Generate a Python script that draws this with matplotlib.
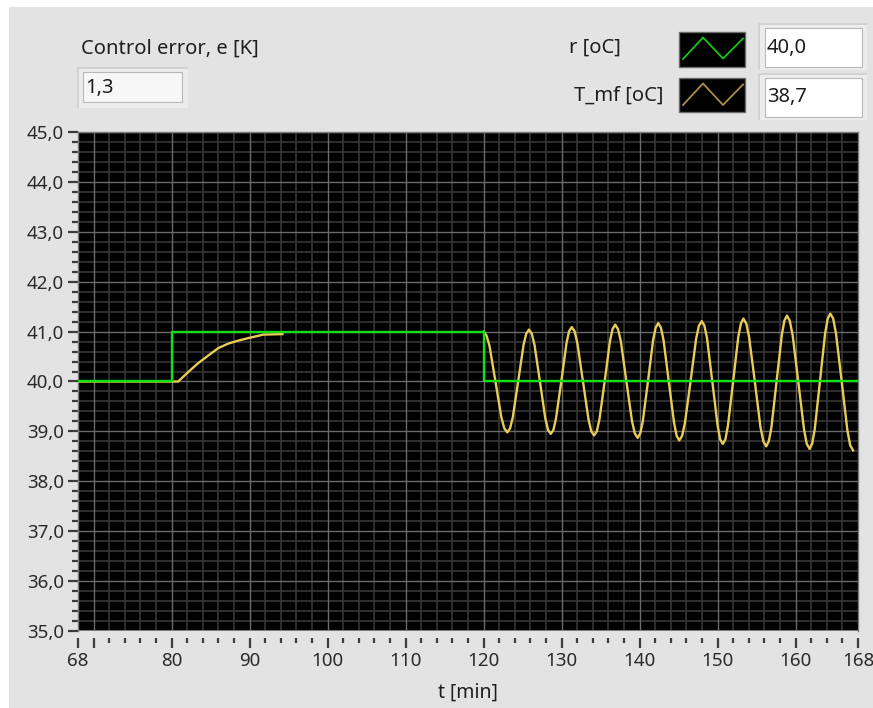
import numpy as np
import matplotlib
matplotlib.use("Agg")
import matplotlib.pyplot as plt
from matplotlib.patches import Rectangle
from matplotlib.lines import Line2D
from matplotlib.ticker import FixedLocator, MultipleLocator, FuncFormatter

nan = float("nan")

# ---------------- data ----------------
# setpoint r [oC]
r_t = [68.0, 80.0, 80.0, 120.0, 120.0, 168.0]
r_v = [40.0, 40.0, 41.0, 41.0, 40.0, 40.0]

# measured T_mf [oC]
tmf_t = [68.0, 80.85, 82.13, 83.42, 84.70, 85.99, 87.27, 88.56, 89.84, 91.77, 94.21,
         nan,
         120.0, 120.38, 120.76, 121.52, 122.28, 122.66,
         123.04, 123.39, 123.74, 124.43, 125.13, 125.47,
         125.82, 126.17, 126.52, 127.22, 127.91, 128.26,
         128.61, 128.95, 129.28, 129.96, 130.63, 130.96,
         131.30, 131.66, 132.02, 132.74, 133.45, 133.81,
         134.17, 134.51, 134.85, 135.52, 136.20, 136.53,
         136.87, 137.23, 137.59, 138.31, 139.03, 139.39,
         139.75, 140.08, 140.41, 141.07, 141.73, 142.06,
         142.39, 142.73, 143.07, 143.74, 144.42, 144.75,
         145.09, 145.45, 145.81, 146.53, 147.25, 147.61,
         147.97, 148.31, 148.65, 149.32, 150.00, 150.33,
         150.67, 151.00, 151.33, 151.99, 152.65, 152.98,
         153.31, 153.68, 154.04, 154.77, 155.50, 155.87,
         156.23, 156.56, 156.90, 157.56, 158.23, 158.56,
         158.89, 159.25, 159.62, 160.34, 161.07, 161.43,
         161.79, 162.12, 162.46, 163.12, 163.78, 164.12,
         164.45, 164.82, 165.18, 165.91, 166.64, 167.00,
         167.37]
tmf_v = [40.0, 40.0, 40.19, 40.37, 40.52, 40.67, 40.76, 40.82, 40.87, 40.94, 40.95,
         nan,
         41.00, 40.92, 40.71, 40.00, 39.28, 39.06,
         38.98, 39.06, 39.28, 40.00, 40.74, 40.96,
         41.04, 40.96, 40.74, 40.00, 39.26, 39.03,
         38.95, 39.03, 39.26, 40.00, 40.77, 41.01,
         41.09, 41.01, 40.77, 40.00, 39.24, 39.00,
         38.92, 39.00, 39.24, 40.00, 40.81, 41.05,
         41.14, 41.05, 40.81, 40.00, 39.20, 38.96,
         38.87, 38.96, 39.20, 40.00, 40.83, 41.08,
         41.17, 41.08, 40.83, 40.00, 39.17, 38.91,
         38.82, 38.91, 39.17, 40.00, 40.86, 41.12,
         41.21, 41.12, 40.86, 40.00, 39.12, 38.84,
         38.75, 38.84, 39.12, 40.00, 40.89, 41.16,
         41.26, 41.16, 40.89, 40.00, 39.08, 38.80,
         38.70, 38.80, 39.08, 40.00, 40.93, 41.22,
         41.32, 41.22, 40.93, 40.00, 39.05, 38.75,
         38.65, 38.75, 39.05, 40.00, 40.96, 41.26,
         41.36, 41.26, 40.96, 40.00, 39.02, 38.72,
         38.62]

x_major = [68, 70, 80, 90, 100, 110, 120, 130, 140, 150, 160, 168]
x_labels = ["68", "", "80", "90", "100", "110", "120", "130", "140", "150", "160", "168"]
y_major = [35, 36, 37, 38, 39, 40, 41, 42, 43, 44, 45]

control_error = "1,3"
r_value = "40,0"
tmf_value = "38,7"

# ---------------- figure ----------------
W, H = 873, 708
FONT = ["Noto Sans", "DejaVu Sans"]
plt.rcParams["font.family"] = FONT
TXT = "#1e1e1e"
FS_TOP = 14.5
FS_TICK = 13.5

fig = plt.figure(figsize=(W / 100, H / 100), dpi=100, facecolor="white")


def fx(x):
    return x / W


def fy(y):
    return 1 - y / H


def rect_px(x0, y0, x1, y1, **kw):
    r = Rectangle((fx(x0), fy(y1)), fx(x1) - fx(x0), fy(y0) - fy(y1),
                  transform=fig.transFigure, **kw)
    fig.add_artist(r)
    return r


# panel background
rect_px(9, 7, W + 2, H + 2, facecolor="#e3e3e3", edgecolor="none", zorder=0)

# plot area
ax = fig.add_axes([fx(78), fy(631), fx(858) - fx(78), fy(132) - fy(631)])
ax.set_facecolor("black")
ax.plot(tmf_t, tmf_v, color="#e8cc55", lw=1.7, zorder=3)
ax.plot(r_t, r_v, color="#12e012", lw=1.7, zorder=4)
ax.set_xlim(68, 168)
ax.set_ylim(35, 45)

ax.xaxis.set_major_locator(FixedLocator(x_major))
ax.set_xticklabels(x_labels)
ax.xaxis.set_minor_locator(FixedLocator([v for v in range(72, 168, 2) if v % 10 != 0]))
ax.yaxis.set_major_locator(MultipleLocator(1))
ax.yaxis.set_minor_locator(MultipleLocator(0.2))
ax.yaxis.set_major_formatter(FuncFormatter(lambda v, p: f"{v:.1f}".replace(".", ",")))

# grid
for v in range(70, 168, 10):
    ax.axvline(v, color="#6a6a6a", lw=1.0, zorder=1)
for v in range(70, 168, 2):
    if v % 10 != 0:
        ax.axvline(v, color="#353535", lw=1.2, zorder=0.9)
for v in y_major:
    ax.axhline(v, color="#6a6a6a", lw=1.0, zorder=1)
for i in range(35 * 5, 45 * 5):
    if i % 5 != 0:
        ax.axhline(i / 5, color="#353535", lw=1.2, zorder=0.9)

for s in ["top", "right", "left"]:
    ax.spines[s].set_color("#7a7a7a")
    ax.spines[s].set_linewidth(1.0)
ax.spines["bottom"].set_position(("outward", 5))
ax.spines["bottom"].set_visible(False)
ax.axhline(35, color="#7a7a7a", lw=1.5, zorder=5)

ax.tick_params(axis="both", which="both", colors="#3c3c3c", labelcolor="#2a2a2a",
               direction="out", labelsize=FS_TICK)
ax.tick_params(axis="y", which="major", length=7, width=1.6, pad=3)
ax.tick_params(axis="y", which="minor", length=4, width=1.6)
ax.tick_params(axis="x", which="major", length=7, width=1.6, pad=3)
ax.tick_params(axis="x", which="minor", length=3.5, width=1.6)
ax.set_xlabel("t [min]", fontsize=14, color=TXT, labelpad=9)

# ---------------- top controls ----------------
fig.text(fx(81), fy(49), "Control error, e [K]", fontsize=FS_TOP, color=TXT,
         va="center", ha="left")


def bevel_box(x0, y0, x1, y1, ix0, iy0, ix1, iy1, fill):
    rect_px(x0, y0, x1, y1, facecolor="#d2d2d2", edgecolor="none", zorder=1)
    rect_px(x0 + 2, y0 + 2, x1, y1, facecolor="#ececec", edgecolor="none", zorder=1.1)
    rect_px(ix0, iy0, ix1, iy1, facecolor=fill, edgecolor="#b8b8b8", lw=0.8, zorder=1.2)


bevel_box(77, 67, 188, 108, 83, 72, 182, 102, "#f7f7f7")
fig.text(fx(85), fy(88), control_error, fontsize=FS_TOP, color=TXT, va="center", ha="left")

bevel_box(758, 23, 867, 70, 765, 28, 862, 67, "white")
bevel_box(758, 73, 867, 120, 765, 78, 862, 117, "white")
fig.text(fx(767), fy(48), r_value, fontsize=FS_TOP, color=TXT, va="center", ha="left")
fig.text(fx(767), fy(97), tmf_value, fontsize=FS_TOP, color=TXT, va="center", ha="left")

fig.text(fx(621), fy(48), "r [oC]", fontsize=FS_TOP, color=TXT, va="center", ha="right")
fig.text(fx(663), fy(96), "T_mf [oC]", fontsize=FS_TOP, color=TXT, va="center", ha="right")

# legend swatches
rect_px(679, 32, 745, 67, facecolor="black", edgecolor="#6a6a6a", lw=1.0, zorder=2)
rect_px(679, 78, 745, 112, facecolor="black", edgecolor="#6a6a6a", lw=1.0, zorder=2)
fig.add_artist(Line2D([fx(683), fx(703), fx(723), fx(743)],
                      [fy(59), fy(37.5), fy(58.5), fy(38.5)],
                      transform=fig.transFigure, color="#12c812", lw=1.3, zorder=3))
fig.add_artist(Line2D([fx(683), fx(703), fx(723), fx(743)],
                      [fy(105), fy(83.5), fy(105), fy(84.5)],
                      transform=fig.transFigure, color="#a89040", lw=1.3, zorder=3))

fig.savefig("out.png", dpi=100, facecolor=fig.get_facecolor())
